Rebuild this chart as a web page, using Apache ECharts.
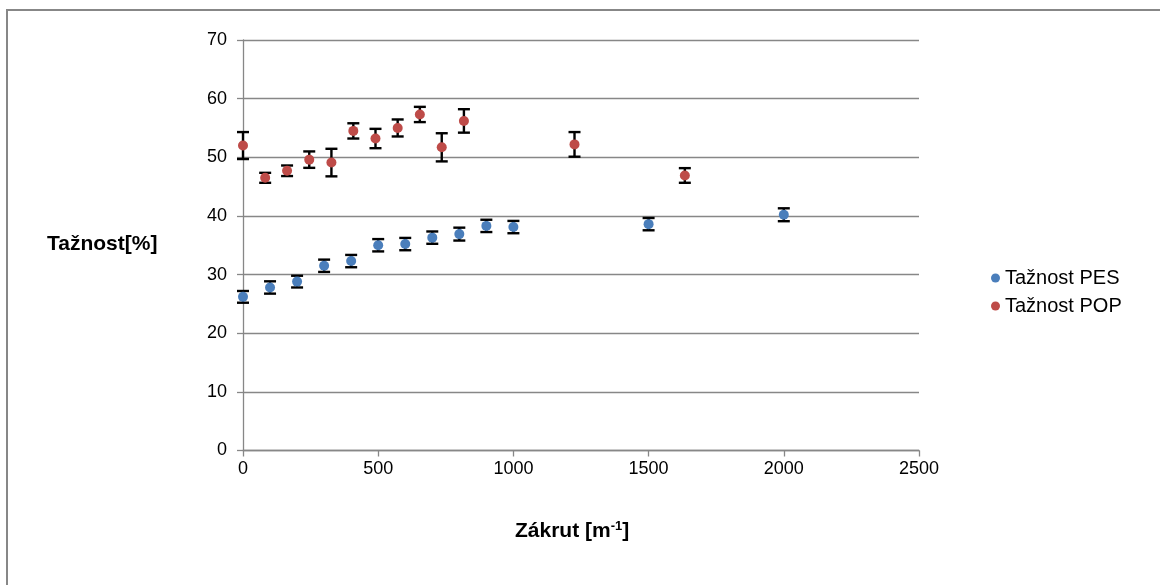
<!DOCTYPE html>
<html>
<head>
<meta charset="utf-8">
<script src="https://cdn.jsdelivr.net/npm/echarts@6/dist/echarts.min.js"></script>
<style>html,body{margin:0;padding:0;background:#fff}#c{width:1160px;height:585px}</style>
</head>
<body>
<div id="c"></div>
<script>
// ---- data ----
const pesX = [0, 100, 200, 300, 400, 500, 600, 700, 800, 900, 1000, 1500, 2000];
const pesY = [26.2, 27.8, 28.8, 31.5, 32.3, 35.0, 35.2, 36.3, 36.9, 38.3, 38.1, 38.6, 40.2];
const pesErr = [1.0, 1.05, 1.0, 1.05, 1.05, 1.05, 1.05, 1.05, 1.1, 1.05, 1.05, 1.05, 1.1];

const popX = [0, 82, 163, 245, 327, 408, 490, 572, 654, 735, 817, 1226, 1634];
const popY = [52.0, 46.5, 47.7, 49.6, 49.1, 54.5, 53.2, 55.0, 57.3, 51.7, 56.2, 52.2, 46.9];
const popErr = [2.3, 0.85, 0.9, 1.4, 2.35, 1.3, 1.65, 1.45, 1.3, 2.4, 2.0, 2.1, 1.25];

const xTicks = [0, 500, 1000, 1500, 2000, 2500];
const yTicks = [0, 10, 20, 30, 40, 50, 60, 70];

const seriesNames = ['Tažnost PES', 'Tažnost POP'];
const yTitle = 'Tažnost[%]';
// ---------------

const FONT = 'Liberation Sans';
const mkPts = (xs, ys) => xs.map((x, i) => [x, ys[i]]);
const mkErr = (xs, ys, es) => xs.map((x, i) => [x, ys[i] - es[i], ys[i] + es[i]]);

function errRender(params, api) {
  const x = api.value(0);
  const lo = api.coord([x, api.value(1)]);
  const hi = api.coord([x, api.value(2)]);
  const hw = 6;
  const st = { stroke: '#000', lineWidth: 2.4 };
  return {
    type: 'group',
    children: [
      { type: 'line', shape: { x1: lo[0], y1: lo[1], x2: hi[0], y2: hi[1] }, style: st },
      { type: 'line', shape: { x1: lo[0] - hw, y1: lo[1], x2: lo[0] + hw, y2: lo[1] }, style: st },
      { type: 'line', shape: { x1: hi[0] - hw, y1: hi[1], x2: hi[0] + hw, y2: hi[1] }, style: st }
    ]
  };
}

const chart = echarts.init(document.getElementById('c'), null, { renderer: 'canvas' });
chart.setOption({
  backgroundColor: '#fff',
  animation: false,
  grid: { left: 243, right: 241, top: 40, bottom: 134.5, containLabel: false },
  graphic: [
    { type: 'rect', z: 100, shape: { x: 7, y: 10, width: 1300, height: 800 },
      style: { fill: 'none', stroke: '#878787', lineWidth: 2 } },
    { type: 'text', left: 47, top: 234,
      style: { text: yTitle, font: 'bold 21px "' + FONT + '"', fill: '#000' } },
    { type: 'text', left: 515, top: 520,
      style: { text: 'Zákrut [m{sup|-1}]', font: 'bold 21px "' + FONT + '"', fill: '#000',
        rich: { sup: { fontSize: 13, fontWeight: 'bold', fontFamily: FONT, verticalAlign: 'top', padding: [0, 0, 10, 0] } } } }
  ],
  legend: {
    orient: 'vertical',
    left: 986, top: 263,
    itemGap: 8,
    itemWidth: 9, itemHeight: 9,
    data: seriesNames.map(n => ({ name: n, icon: 'circle' })),
    textStyle: { fontFamily: FONT, fontSize: 20, color: '#000' }
  },
  xAxis: {
    type: 'value', min: 0, max: 2500, interval: 500,
    axisLine: { show: true, lineStyle: { color: '#878787', width: 1.3 } },
    axisTick: { show: true, inside: false, length: 6, lineStyle: { color: '#878787', width: 1.3 } },
    axisLabel: { fontFamily: FONT, fontSize: 18, color: '#000', margin: 10,
      formatter: v => xTicks.includes(v) ? String(v) : '' },
    splitLine: { show: false }
  },
  yAxis: {
    type: 'value', min: 0, max: 70, interval: 10,
    axisLine: { show: true, lineStyle: { color: '#878787', width: 1.3 } },
    axisTick: { show: true, inside: false, length: 6, lineStyle: { color: '#878787', width: 1.3 } },
    axisLabel: { fontFamily: FONT, fontSize: 18, color: '#000', margin: 16,
      formatter: v => yTicks.includes(v) ? String(v) : '' },
    splitLine: { show: true, lineStyle: { color: '#878787', width: 1.3 } }
  },
  series: [
    { type: 'custom', name: 'errPES', renderItem: errRender, data: mkErr(pesX, pesY, pesErr),
      encode: { x: 0, y: [1, 2] }, z: 3, silent: true },
    { type: 'custom', name: 'errPOP', renderItem: errRender, data: mkErr(popX, popY, popErr),
      encode: { x: 0, y: [1, 2] }, z: 3, silent: true },
    { type: 'scatter', name: seriesNames[0], data: mkPts(pesX, pesY), symbol: 'circle', symbolSize: 10,
      itemStyle: { color: '#4a7ebb', opacity: 1 }, z: 5 },
    { type: 'scatter', name: seriesNames[1], data: mkPts(popX, popY), symbol: 'circle', symbolSize: 10,
      itemStyle: { color: '#be4b48', opacity: 1 }, z: 5 }
  ]
});
</script>
</body>
</html>
